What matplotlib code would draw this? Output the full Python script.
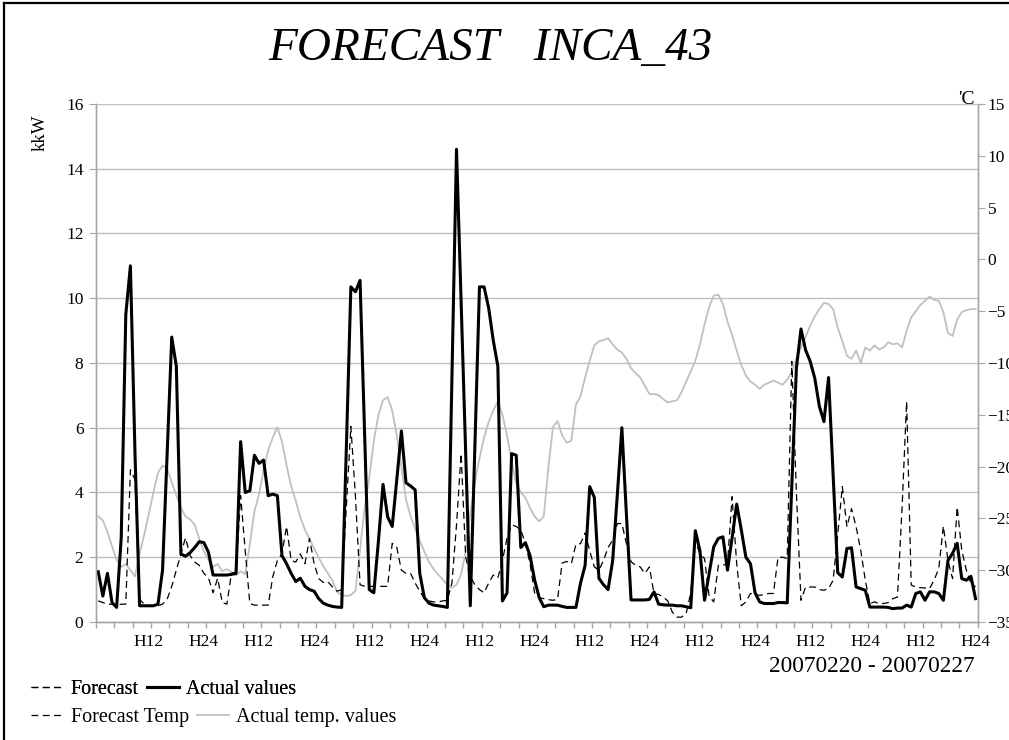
import numpy as np
import matplotlib
matplotlib.use("Agg")
import matplotlib.pyplot as plt
from matplotlib.lines import Line2D

plt.rcParams['font.family'] = ['Liberation Serif', 'DejaVu Serif']

# hourly values, 20070220 - 20070227 (8 days x 24 h)
actual_kw = [
    1.55, 0.8, 1.5, 0.6, 0.45, 2.6, 9.5, 11.0, 5.2, 0.5, 0.5, 0.5,
    0.5, 0.55, 1.6, 5.2, 8.8, 7.9, 2.1, 2.03, 2.14, 2.3, 2.48, 2.45,
    2.15, 1.45, 1.45, 1.45, 1.45, 1.47, 1.5, 5.57, 4.0, 4.05, 5.15, 4.9,
    5.0, 3.9, 3.95, 3.9, 2.05, 1.8, 1.5, 1.25, 1.35, 1.1, 1.0, 0.95,
    0.72, 0.58, 0.52, 0.48, 0.46, 0.45, 5.3, 10.35, 10.2, 10.55, 5.8, 1.0,
    0.9, 2.5, 4.25, 3.25, 2.95, 4.4, 5.9, 4.3, 4.2, 4.08, 1.5, 0.75,
    0.58, 0.52, 0.5, 0.48, 0.45, 7.5, 14.6, 9.9, 5.2, 0.5, 5.4, 10.35,
    10.35, 9.7, 8.7, 7.9, 0.65, 0.9, 5.2, 5.15, 2.3, 2.45, 2.05, 1.3,
    0.75, 0.47, 0.52, 0.52, 0.52, 0.48, 0.45, 0.45, 0.45, 1.2, 1.75, 4.18,
    3.85, 1.35, 1.15, 1.0, 1.9, 3.9, 6.0, 3.3, 0.68, 0.68, 0.68, 0.68,
    0.7, 0.93, 0.55, 0.53, 0.52, 0.52, 0.5, 0.5, 0.47, 0.44, 2.82, 2.2,
    0.67, 1.5, 2.32, 2.58, 2.63, 1.6, 2.6, 3.64, 2.85, 2.0, 1.8, 0.9,
    0.62, 0.57, 0.57, 0.57, 0.6, 0.6, 0.59, 4.2, 7.84, 9.05, 8.4, 8.05,
    7.53, 6.66, 6.19, 7.55, 4.5, 1.52, 1.39, 2.27, 2.29, 1.08, 1.03, 0.98,
    0.46, 0.46, 0.46, 0.46, 0.45, 0.41, 0.43, 0.43, 0.52, 0.46, 0.88, 0.93,
    0.67, 0.93, 0.93, 0.88, 0.67, 1.9, 2.12, 2.43, 1.34, 1.29, 1.41, 0.72,
]

forecast_kw = [
    0.65, 0.6, 0.55, 0.55, 0.5, 0.55, 0.55, 4.7, 4.4, 0.7, 0.55, 0.5,
    0.5, 0.5, 0.55, 0.7, 1.1, 1.6, 2.1, 2.6, 2.05, 1.85, 1.75, 1.5,
    1.36, 0.9, 1.35, 0.6, 0.55, 1.5, 1.55, 3.9, 2.2, 0.57, 0.52, 0.52,
    0.52, 0.52, 1.4, 1.9, 2.1, 2.95, 1.9, 1.85, 2.1, 1.8, 2.58, 1.8,
    1.34, 1.22, 1.24, 1.08, 0.95, 1.0, 3.5, 6.04, 3.87, 1.15, 1.1, 1.1,
    1.1, 1.1, 1.1, 1.1, 2.43, 2.3, 1.6, 1.5, 1.5, 1.2, 0.95, 0.72,
    0.65, 0.62, 0.62, 0.65, 0.67, 1.2, 3.0, 5.2, 2.0, 1.4, 1.15, 1.0,
    0.9, 1.2, 1.45, 1.36, 1.9, 2.6, 3.0, 2.95, 2.84, 2.43, 1.8, 0.9,
    0.75, 0.72, 0.69, 0.67, 0.7, 1.82, 1.87, 1.8, 2.4, 2.42, 2.75, 2.2,
    1.7, 1.6, 1.9, 2.3, 2.53, 3.04, 3.04, 2.42, 1.86, 1.75, 1.7, 1.5,
    1.7, 0.88, 0.85, 0.77, 0.65, 0.3, 0.15, 0.15, 0.26, 0.9, 2.5, 2.1,
    1.96, 0.8, 0.62, 1.75, 1.75, 1.8, 3.87, 1.8, 0.5, 0.62, 0.88, 0.85,
    0.82, 0.85, 0.88, 0.88, 2.0, 2.0, 1.96, 8.05, 4.0, 0.67, 1.08, 1.08,
    1.08, 1.0, 0.98, 1.03, 1.29, 2.7, 4.18, 2.94, 3.5, 2.94, 2.22, 1.29,
    0.57, 0.62, 0.57, 0.57, 0.6, 0.72, 0.77, 3.5, 6.81, 1.14, 1.08, 1.06,
    1.05, 1.03, 1.3, 1.65, 2.96, 1.9, 1.34, 3.55, 2.22, 1.6, 1.19, 1.08,
]

actual_temp = [
    -24.8, -25.2, -26.3, -27.7, -29.0, -29.7, -29.4, -30.0, -30.6, -28.4, -26.6, -24.6,
    -22.5, -20.6, -19.9, -20.2, -21.5, -22.8, -24.0, -24.8, -25.1, -25.6, -27.0, -28.2,
    -29.0, -29.7, -29.4, -30.1, -29.9, -30.2, -30.5, -30.1, -30.4, -27.5, -24.3, -22.7,
    -20.4, -18.4, -17.2, -16.2, -17.6, -19.9, -21.9, -23.3, -24.9, -26.1, -27.0, -27.9,
    -28.8, -29.6, -30.3, -31.0, -32.1, -32.4, -32.5, -32.4, -32.0, -28.0, -24.0, -21.1,
    -17.5, -15.0, -13.6, -13.3, -14.6, -17.0, -20.0, -23.2, -24.8, -26.0, -27.2, -28.2,
    -29.2, -29.9, -30.4, -30.9, -31.4, -31.7, -31.4, -30.4, -28.2, -24.5, -21.5, -19.2,
    -17.2, -15.7, -14.6, -13.7, -15.0, -17.0, -19.5, -21.6, -22.5, -23.0, -24.0, -24.8,
    -25.3, -24.8, -20.1, -16.2, -15.6, -17.0, -17.7, -17.5, -14.0, -13.2, -11.4, -9.8,
    -8.3, -7.9, -7.8, -7.6, -8.2, -8.7, -9.0, -9.6, -10.5, -11.0, -11.4, -12.2,
    -13.0, -13.0, -13.1, -13.5, -13.8, -13.7, -13.6, -12.8, -11.8, -10.8, -9.8, -8.2,
    -6.3, -4.6, -3.5, -3.4, -4.3, -6.0, -7.3, -8.8, -10.2, -11.2, -11.8, -12.1,
    -12.5, -12.1, -11.9, -11.7, -11.9, -12.1, -11.6, -10.9, -9.6, -8.5, -7.5, -6.4,
    -5.5, -4.8, -4.2, -4.3, -4.8, -6.6, -7.9, -9.3, -9.6, -8.8, -10.0, -8.5,
    -8.8, -8.3, -8.7, -8.5, -8.0, -8.2, -8.1, -8.5, -6.9, -5.6, -5.0, -4.4,
    -4.0, -3.6, -3.9, -4.0, -5.1, -7.1, -7.4, -5.8, -5.1, -4.9, -4.8, -4.8,
]

forecast_temp = []  # no values in the reference

n_days = 8
hour_labels = ["H12", "H24"] * n_days
label_pos = [11 + 12 * k for k in range(2 * n_days)]

grid_col = "#c0c0c0"
axis_col = "#a6a6a6"

fig = plt.figure(figsize=(10.09, 7.40), dpi=100)
ax = fig.add_axes([0.0951, 0.1595, 0.874, 0.700])
ax2 = ax.twinx()
ax.set_zorder(ax2.get_zorder() + 1)
ax.patch.set_visible(False)

x = np.arange(len(actual_kw))
ax.plot(x, forecast_kw, color="black", lw=0.9, ls=(0, (5.5, 3.5)), label="Forecast")
ax.plot(x, actual_kw, color="black", lw=2.2, label="Actual values")
ax2.plot(np.arange(len(forecast_temp)), forecast_temp, color="black", lw=0.9,
         ls=(0, (5.5, 3.5)), label="Forecast Temp")
ax2.plot(x, actual_temp, color=grid_col, lw=1.3, label="Actual temp. values")

ax.set_xlim(-0.5, len(x) - 0.5)
ax.set_ylim(0, 16)
ax2.set_ylim(-35, 15)
ax.set_yticks(range(0, 17, 2))
ax2.set_yticks(range(-35, 16, 5))
ax.grid(axis="y", color=grid_col, lw=1)
ax.set_axisbelow(True)

ax.set_xticks(label_pos)
ax.set_xticklabels(hour_labels)
ax.set_xticks(np.arange(-0.5, len(x), 4), minor=True)
ax.tick_params(axis="x", which="major", length=0, pad=9, labelsize=12.5)
ax.tick_params(axis="x", which="minor", length=4, color=axis_col, width=1)
ax.tick_params(axis="y", length=5, color=axis_col, labelsize=12.5, pad=4)
ax2.tick_params(axis="y", length=5, color=axis_col, labelsize=12.5, pad=2)

for a in (ax, ax2):
    a.spines["top"].set_visible(False)
    for s in ("left", "right", "bottom"):
        a.spines[s].set_color(axis_col)
        a.spines[s].set_linewidth(1)

fig.text(0.486, 0.934, "FORECAST   INCA_43", fontsize=34, style="italic",
         ha="center", va="center")
fig.text(0.040, 0.820, "kkW", fontsize=13.5, rotation=90, ha="center", va="center")
fig.text(0.958, 0.865, "'C", fontsize=14, ha="center", va="center")
fig.text(0.966, 0.100, "20070220 - 20070227", fontsize=16.8, ha="right", va="center")

h1, l1 = ax.get_legend_handles_labels()
h2, l2 = ax2.get_legend_handles_labels()
leg_kw = dict(ncol=2, frameon=False, fontsize=14.5, handlelength=1.6,
              handletextpad=0.35, columnspacing=0.4, borderpad=0, borderaxespad=0,
              loc="center left")
leg1 = fig.legend(h1, l1, bbox_to_anchor=(0.031, 0.068), **leg_kw)
fig.add_artist(leg1)
fig.legend(h2, l2, bbox_to_anchor=(0.031, 0.030), **leg_kw)

# outer frame (left and top edges visible)
fig.add_artist(Line2D([0.004, 0.004], [0.0, 0.996], transform=fig.transFigure,
                      color="black", lw=1.6))
fig.add_artist(Line2D([0.004, 1.0], [0.996, 0.996], transform=fig.transFigure,
                      color="black", lw=1.6))

fig.savefig("out.png", dpi=100)
